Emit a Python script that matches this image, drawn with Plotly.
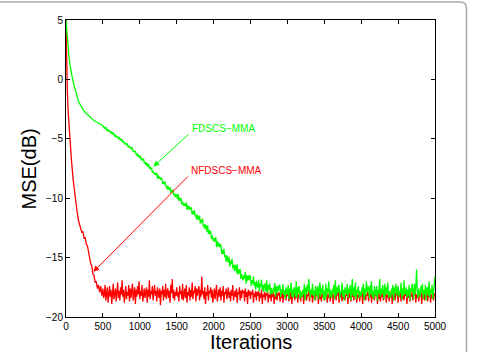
import plotly.graph_objects as go

# ---------------- data ----------------
red_early_iter = [0, 5, 10, 18, 30, 50, 75, 100, 125, 150, 170, 185, 200, 215, 230,
                  245, 260, 275, 290, 305, 320, 335, 350, 365, 380, 395, 410, 425, 440,
                  455, 470, 485]
red_early_mse = [5.0, 3.0, 1.3, -0.9, -2.8, -4.9, -6.9, -8.6, -10.0, -11.1, -11.9, -12.3,
                 -12.5, -12.9, -12.8, -13.4, -13.3, -13.9, -14.0, -14.6, -14.9, -15.5,
                 -15.7, -16.4, -16.5, -17.1, -17.0, -17.6, -17.3, -17.9, -17.4, -18.2]
red_band_iter = list(range(500, 5001, 10))
red_band_mse = [
    -17.6, -18.4, -18.1, -17.3, -18.6, -17.9, -17.5, -18.8, -18.0, -17.4,
    -18.3, -17.7, -18.9, -17.8, -17.2, -18.5, -18.2, -17.6, -18.7, -17.9,
    -17.1, -18.4, -17.8, -18.6, -17.5, -18.1, -16.9, -18.3, -17.7, -18.8,
    -18.0, -17.4, -18.5, -17.9, -18.2, -17.3, -18.7, -17.6, -18.4, -17.8,
    -17.2, -18.6, -18.0, -17.5, -18.9, -17.7, -18.3, -17.4, -18.1, -17.0,
    -18.5, -17.8, -18.2, -17.3, -18.7, -17.9, -17.6, -18.4, -18.0, -17.5,
    -18.8, -17.7, -18.3, -16.9, -18.5, -17.8, -18.1, -17.4, -18.6, -17.9,
    -17.3, -18.2, -17.8, -18.7, -17.5, -18.0, -18.4, -17.6, -19.0, -17.8,
    -18.1, -17.4, -18.6, -17.7, -18.3, -17.2, -18.5, -17.9, -17.6, -18.4,
    -17.8, -18.8, -17.3, -18.0, -16.8, -18.4, -17.7, -18.6, -17.9, -18.2,
    -17.5, -18.3, -17.9, -18.7, -17.4, -18.1, -17.8, -18.5, -17.2, -18.6,
    -18.0, -17.6, -18.4, -17.3, -18.8, -17.9, -18.2, -17.5, -18.6, -17.7,
    -18.3, -17.1, -18.5, -17.8, -18.0, -17.4, -18.7, -17.6, -18.2, -17.9,
    -17.4, -18.6, -17.7, -18.3, -16.6, -18.1, -17.8, -18.5, -17.5, -18.9,
    -17.9, -18.2, -17.3, -18.6, -17.8, -18.0, -17.5, -18.4, -17.7, -18.8,
    -18.1, -17.6, -18.5, -17.9, -17.3, -18.7, -18.0, -17.7, -18.3, -17.5,
    -18.6, -17.8, -18.2, -17.4, -18.8, -17.9, -18.1, -17.6, -18.5, -17.8,
    -17.5, -18.4, -17.9, -18.7, -17.7, -18.2, -17.3, -18.6, -18.0, -17.8,
    -18.3, -17.6, -18.8, -17.9, -18.1, -17.5, -18.6, -17.8, -18.4, -17.7,
    -18.0, -17.8, -18.7, -17.6, -18.3, -17.9, -18.9, -17.7, -18.2, -17.8,
    -18.5, -17.9, -18.1, -17.7, -18.8, -18.0, -18.3, -17.8, -18.6, -17.9,
    -18.2, -17.8, -18.7, -18.0, -18.4, -17.7, -18.9, -18.1, -18.3, -17.9,
    -18.6, -18.0, -18.2, -17.8, -18.8, -18.1, -18.4, -17.9, -18.7, -18.0,
    -18.3, -17.9, -18.9, -18.1, -18.5, -17.8, -18.6, -18.0, -18.2, -17.9,
    -18.7, -18.1, -18.4, -17.9, -18.8, -18.0, -18.3, -17.8, -18.6, -18.1,
    -18.2, -17.9, -18.7, -18.0, -18.5, -17.8, -18.9, -18.1, -18.3, -17.9,
    -18.6, -18.0, -18.4, -17.8, -18.8, -18.1, -18.2, -17.9, -18.7, -18.0,
    -18.3, -17.8, -18.9, -18.0, -18.5, -17.9, -18.6, -18.1, -18.2, -17.8,
    -18.7, -18.0, -18.3, -17.9, -18.8, -18.1, -18.4, -17.8, -18.6, -18.0,
    -18.2, -17.9, -18.9, -18.0, -18.5, -17.8, -18.7, -18.1, -18.3, -17.9,
    -18.6, -18.0, -18.2, -17.8, -18.8, -18.1, -18.4, -17.9, -18.7, -18.0,
    -18.3, -17.9, -18.9, -18.1, -18.4, -17.8, -18.6, -18.0, -18.2, -17.9,
    -18.8, -18.1, -18.3, -17.9, -18.7, -18.0, -18.5, -17.8, -18.6, -18.1,
    -18.2, -17.9, -18.9, -18.0, -18.4, -17.8, -18.7, -18.1, -18.3, -17.9,
    -18.6, -18.0, -18.2, -17.8, -18.8, -18.1, -18.4, -17.9, -18.7, -18.0,
    -18.3, -17.9, -18.9, -18.0, -18.5, -17.8, -18.6, -18.1, -18.2, -17.9,
    -18.7, -18.0, -18.3, -17.9, -18.8, -18.1, -18.4, -17.8, -18.6, -18.0,
    -18.2, -17.9, -18.9, -18.0, -18.5, -17.8, -18.7, -18.1, -18.3, -17.9,
    -18.6, -18.0, -18.2, -17.8, -18.8, -18.1, -18.4, -17.9, -18.7, -18.0,
    -18.3, -17.9, -18.9, -18.1, -18.4, -17.8, -18.6, -18.0, -18.2, -17.9,
    -18.8, -18.1, -18.3, -17.9, -18.7, -18.0, -18.5, -17.8, -18.6, -18.1,
    -18.2, -17.9, -18.9, -18.0, -18.4, -17.8, -18.7, -18.1, -18.3, -17.9,
    -18.6, -18.0, -18.2, -17.8, -18.8, -18.1, -18.4, -17.9, -18.7, -18.0,
    -18.3, -17.9, -18.9, -18.0, -18.5, -17.8, -18.6, -18.1, -18.2, -17.9,
    -18.7, -18.0, -18.3, -17.9, -18.8, -18.1, -18.4, -17.8, -18.6, -18.0,
    -18.2,
]

green_early_iter = [0, 10, 20, 30, 40, 55, 70, 90, 110, 130, 150, 170, 190, 220, 250,
                    280, 310, 340, 370, 400, 420, 440, 460, 480]
green_early_mse = [5.0, 4.0, 3.2, 2.5, 1.95, 1.2, 0.6, 0.0, -0.55, -1.0, -1.45, -1.85,
                   -2.1, -2.45, -2.7, -2.9, -3.1, -3.27, -3.42, -3.55, -3.62, -3.70,
                   -3.80, -3.86]
green_band_iter = list(range(500, 5001, 10))
green_band_mse = [
    -3.89, -4.10, -4.03, -4.13, -4.03, -4.24, -4.21, -4.39, -4.25, -4.38,
    -4.45, -4.35, -4.61, -4.50, -4.60, -4.52, -4.76, -4.72, -4.88, -4.77,
    -4.84, -5.00, -4.85, -5.10, -5.02, -5.14, -5.08, -5.32, -5.25, -5.36,
    -5.45, -5.38, -5.50, -5.39, -5.71, -5.56, -5.75, -5.66, -5.81, -5.74,
    -5.81, -6.10, -6.00, -6.14, -6.01, -6.30, -6.26, -6.50, -6.32, -6.49,
    -6.60, -6.43, -6.83, -6.66, -6.80, -6.65, -7.04, -6.94, -7.21, -7.01,
    -7.12, -7.37, -7.12, -7.52, -7.37, -7.56, -7.45, -7.84, -7.70, -7.89,
    -8.01, -7.89, -8.07, -7.86, -8.35, -8.09, -8.36, -8.21, -8.42, -8.29,
    -8.40, -8.80, -8.62, -8.81, -8.59, -9.00, -8.92, -9.25, -8.96, -9.19,
    -9.31, -9.06, -9.57, -9.32, -9.49, -9.27, -9.75, -9.60, -9.92, -9.65,
    -9.75, -10.08, -9.66, -10.23, -9.96, -10.21, -10.00, -10.54, -10.30, -10.54,
    -10.66, -10.45, -10.66, -10.36, -10.99, -10.61, -10.94, -10.70, -10.97, -10.76,
    -10.87, -11.38, -11.12, -11.34, -11.01, -11.53, -11.40, -11.81, -11.39, -11.67,
    -11.81, -11.47, -12.15, -11.81, -12.04, -11.73, -12.37, -12.17, -12.61, -12.23,
    -12.38, -12.81, -12.28, -13.02, -12.68, -13.00, -12.74, -13.43, -13.14, -13.45,
    -13.63, -13.36, -13.65, -13.27, -14.12, -13.61, -14.06, -13.75, -14.13, -13.86,
    -14.02, -14.70, -14.38, -14.68, -14.27, -14.95, -14.79, -15.35, -14.81, -15.20,
    -15.39, -14.92, -15.76, -15.28, -15.54, -15.11, -15.90, -15.61, -16.13, -15.61,
    -15.77, -16.26, -15.56, -16.44, -15.98, -16.33, -15.95, -16.79, -16.37, -16.73,
    -16.90, -16.49, -16.77, -16.21, -17.20, -16.49, -16.97, -16.51, -16.90, -16.48,
    -16.61, -17.38, -16.89, -17.19, -16.60, -17.37, -17.09, -17.70, -16.96, -17.35,
    -17.51, -16.87, -17.83, -17.18, -17.43, -16.84, -17.74, -17.32, -17.89, -17.19,
    -17.31, -17.87, -16.92, -17.96, -17.31, -17.69, -17.16, -18.14, -17.55, -17.93,
    -18.06, -17.53, -17.85, -17.14, -18.30, -17.41, -17.96, -17.38, -17.81, -17.29,
    -17.39, -18.31, -17.66, -18.00, -17.22, -18.14, -17.75, -18.48, -17.50, -17.97,
    -18.1, -17.3, -18.5, -17.6, -17.9, -17.1, -18.3, -17.7, -18.4, -17.5,
    -17.6, -18.3, -17.0, -18.4, -17.5, -18.0, -17.4, -18.5, -17.8, -18.2,
    -18.3, -17.7, -18.1, -17.2, -18.6, -17.5, -18.1, -17.3, -17.9, -16.8,
    -17.5, -18.4, -17.7, -18.1, -17.2, -18.2, -17.8, -18.6, -17.4, -18.0,
    -18.2, -17.4, -18.5, -17.7, -17.1, -18.3, -17.6, -18.0, -17.3, -18.5,
    -17.8, -18.6, -17.2, -18.3, -17.6, -17.9, -17.0, -18.4, -17.7, -18.1,
    -18.4, -17.6, -18.0, -17.3, -18.5, -16.9, -18.2, -17.5, -18.0, -17.4,
    -17.3, -18.5, -17.8, -18.0, -17.1, -18.3, -17.7, -18.6, -17.5, -17.9,
    -18.1, -17.2, -18.4, -17.6, -18.0, -17.3, -18.6, -17.7, -16.8, -18.2,
    -17.5, -18.3, -17.1, -18.5, -17.7, -18.0, -17.4, -18.4, -17.8, -18.1,
    -18.3, -17.5, -18.0, -17.2, -18.6, -17.6, -18.2, -17.0, -17.9, -17.4,
    -17.6, -18.4, -17.3, -18.1, -17.0, -18.3, -17.8, -18.5, -17.4, -17.9,
    -18.2, -17.4, -18.6, -17.7, -18.0, -16.8, -18.3, -17.6, -18.1, -17.3,
    -17.7, -18.5, -17.2, -18.2, -17.5, -18.0, -17.1, -18.4, -17.8, -18.0,
    -18.4, -17.6, -18.1, -17.3, -18.6, -17.5, -18.0, -17.2, -18.3, -17.7,
    -17.4, -18.3, -17.8, -18.0, -17.1, -18.5, -17.6, -18.2, -16.9, -18.1,
    -18.0, -17.5, -18.4, -17.7, -18.2, -17.3, -18.6, -17.6, -17.9, -17.2,
    -17.8, -18.5, -17.2, -18.1, -17.5, -16.0, -17.9, -18.4, -17.6, -18.0,
    -18.3, -17.4, -18.0, -17.2, -18.5, -17.7, -18.1, -17.3, -18.6, -17.6,
    -17.5, -18.2, -17.0, -18.4, -17.7, -18.0, -17.3, -18.5, -17.8, -17.4,
    -16.6,
]

assert len(red_band_iter) == len(red_band_mse), (len(red_band_iter), len(red_band_mse))
assert len(green_band_iter) == len(green_band_mse), (len(green_band_iter), len(green_band_mse))

x_ticks = [0, 500, 1000, 1500, 2000, 2500, 3000, 3500, 4000, 4500, 5000]
y_ticks = [-20, -15, -10, -5, 0, 5]

label_green = "FDSCS\u2212MMA"
label_red = "NFDSCS\u2212MMA"
x_title = "Iterations"
y_title = "MSE(dB)"

# ---------------- figure ----------------
RED = "#ff0000"
GREEN = "#00ff00"
FONT = "Liberation Sans, Arial, Helvetica, sans-serif"

fig = go.Figure()
fig.add_trace(go.Scatter(x=red_early_iter + red_band_iter, y=red_early_mse + red_band_mse,
                         mode="lines", line=dict(color=RED, width=1.3), showlegend=False))
fig.add_trace(go.Scatter(x=green_early_iter + green_band_iter, y=green_early_mse + green_band_mse,
                         mode="lines", line=dict(color=GREEN, width=1.3), showlegend=False))

axis_common = dict(showline=True, linecolor="black", linewidth=1, mirror="ticks",
                   ticks="inside", ticklen=4, tickwidth=1, tickcolor="black",
                   showgrid=False, zeroline=False,
                   tickfont=dict(family=FONT, size=10, color="black"))

fig.update_xaxes(range=[0, 5000], tickvals=x_ticks, **axis_common)
fig.update_yaxes(range=[-20, 5], tickvals=y_ticks, **axis_common)

annotations = [
    # arrows
    dict(x=1183, y=-7.35, ax=1680, ay=-4.51, xref="x", yref="y", axref="x", ayref="y",
         text="", showarrow=True, arrowhead=2, arrowsize=1.2, arrowwidth=1, arrowcolor=GREEN),
    dict(x=370, y=-16.2, ax=1671, ay=-8.05, xref="x", yref="y", axref="x", ayref="y",
         text="", showarrow=True, arrowhead=2, arrowsize=1.2, arrowwidth=1, arrowcolor=RED),
    # labels
    dict(x=1680, y=-4.12, xref="x", yref="y", text=label_green, showarrow=False,
         xanchor="left", yanchor="middle", font=dict(family=FONT, size=10, color=GREEN)),
    dict(x=1667, y=-7.63, xref="x", yref="y", text=label_red, showarrow=False,
         xanchor="left", yanchor="middle", font=dict(family=FONT, size=10, color=RED)),
    # axis titles
    dict(x=0.5, y=-0.084, xref="paper", yref="paper", text=x_title, showarrow=False,
         xanchor="center", yanchor="middle", font=dict(family=FONT, size=20, color="black")),
    dict(x=-0.1003, y=0.5, xref="paper", yref="paper", text=y_title, showarrow=False,
         textangle=-90, xanchor="center", yanchor="middle",
         font=dict(family=FONT, size=20, color="black")),
]

frame_path = ("M -0.17886,1.06061 L 1.06775,1.06061 Q 1.08537,1.06061 1.08537,1.03872 "
              "L 1.08537,-0.1448")

fig.update_layout(
    width=486, height=352,
    margin=dict(l=66, r=51, t=20, b=35, autoexpand=False),
    paper_bgcolor="white", plot_bgcolor="white",
    annotations=annotations,
    shapes=[dict(type="path", xref="paper", yref="paper", path=frame_path,
                 line=dict(color="#a8a8a8", width=1.5), layer="above")],
    showlegend=False,
)

fig.write_html("out.html")
